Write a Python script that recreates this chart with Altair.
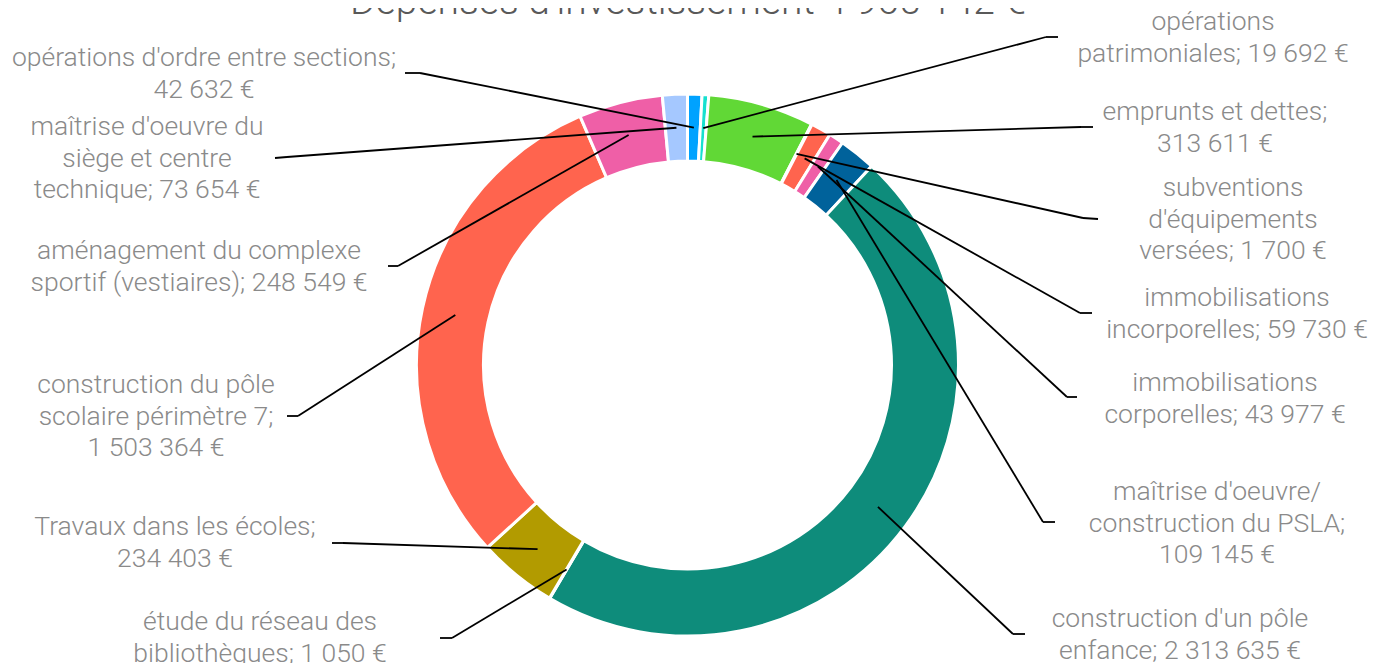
import altair as alt
import pandas as pd

# ---- data ----
categories = [
    "opérations d'ordre entre sections",
    "opérations patrimoniales",
    "emprunts et dettes",
    "subventions d'équipements versées",
    "immobilisations incorporelles",
    "immobilisations corporelles",
    "maîtrise d'oeuvre/construction du PSLA",
    "construction d'un pôle enfance",
    "étude du réseau des bibliothèques",
    "Travaux dans les écoles",
    "construction du pôle scolaire périmètre 7",
    "aménagement du complexe sportif (vestiaires)",
    "maîtrise d'oeuvre du siège et centre technique",
]
values = [42632, 19692, 313611, 1700, 59730, 43977, 109145,
          2313635, 1050, 234403, 1503364, 248549, 73654]
label_texts = [
    "opérations d'ordre entre sections;\n42 632 €",
    "opérations\npatrimoniales; 19 692 €",
    "emprunts et dettes;\n313 611 €",
    "subventions\nd'équipements\nversées; 1 700 €",
    "immobilisations\nincorporelles; 59 730 €",
    "immobilisations\ncorporelles; 43 977 €",
    "maîtrise d'oeuvre/\nconstruction du PSLA;\n109 145 €",
    "construction d'un pôle\nenfance; 2 313 635 €",
    "étude du réseau des\nbibliothèques; 1 050 €",
    "Travaux dans les écoles;\n234 403 €",
    "construction du pôle\nscolaire périmètre 7;\n1 503 364 €",
    "aménagement du complexe\nsportif (vestiaires); 248 549 €",
    "maîtrise d'oeuvre du\nsiège et centre\ntechnique; 73 654 €",
]
title_text = "Dépenses d'investissement 4 965 142 €"

# ---- styles / layout ----
colors = ["#00A2FF", "#16E0CF", "#61D836", "#FFD932", "#FF644E", "#EF5FA7",
          "#00629B", "#0E8C7B", "#4B4B4B", "#B29B00", "#FF644E", "#EF5FA7", "#A5C8FF"]
W, H = 1370, 655
OFF = 8  # page margin
CX, CY = 687.5 - OFF, 365.0 - OFF
R_OUT, R_IN = 271, 204
R_MID = (R_OUT + R_IN) / 2
# page px: label centre x, first-line y, leader elbow (x, y), leader end (x, y)
label_layout = [
    (204, 58, 420, 73, 405, 73),
    (1213, 22, 1046, 37, 1058, 37),
    (1215, 112, 1081, 127, 1093, 127),
    (1233, 188, 1083, 218, 1098, 219),
    (1237, 298, 1080, 313, 1092, 313),
    (1225, 383, 1067, 397, 1077, 397),
    (1217, 492, 1043, 522, 1055, 522),
    (1180, 619, 1013, 634, 1025, 634),
    (260, 622, 452, 638, 440, 638),
    (175, 527, 343, 543, 332, 543),
    (156, 385, 298, 416, 287, 416),
    (199, 251, 398, 266, 388, 266),
    (147, 127, 287, 157, 275, 158),
]

df = pd.DataFrame({
    "cat": categories,
    "value": values,
    "idx": list(range(len(categories))),
    "label": label_texts,
    "lx": [l[0] - OFF for l in label_layout],
    "ly": [l[1] - OFF for l in label_layout],
    "bx": [l[2] - OFF for l in label_layout],
    "by": [l[3] - OFF for l in label_layout],
    "ex": [l[4] - OFF for l in label_layout],
    "ey": [l[5] - OFF for l in label_layout],
})

base = alt.Chart(df)

arcs = base.mark_arc(radius=R_OUT, radius2=R_IN, stroke="white", strokeWidth=3).encode(
    theta=alt.Theta("value:Q", stack=True),
    color=alt.Color("cat:N", scale=alt.Scale(domain=categories, range=colors), legend=None),
    order=alt.Order("idx:Q"),
    x=alt.value(CX),
    y=alt.value(CY),
)

anch = base.transform_joinaggregate(total="sum(value)").transform_window(
    cum="sum(value)", sort=[alt.SortField("idx")], frame=[None, 0]
).transform_calculate(
    mid="(datum.cum - datum.value/2) / datum.total * 2 * PI",
).transform_calculate(
    ax=f"{CX} + {R_MID} * sin(datum.mid)",
    ay=f"{CY} - {R_MID} * cos(datum.mid)",
)

lead1 = anch.mark_rule(color="black", strokeWidth=1.8).encode(
    x=alt.X("ax:Q", scale=None), y=alt.Y("ay:Q", scale=None),
    x2="bx:Q", y2="by:Q",
)
lead2 = base.mark_rule(color="black", strokeWidth=1.8).encode(
    x=alt.X("bx:Q", scale=None), y=alt.Y("by:Q", scale=None),
    x2="ex:Q", y2="ey:Q",
)

labels = base.mark_text(
    font="Roboto", fontWeight=300, fontSize=26.5, color="#8a8a8a",
    lineBreak="\n", lineHeight=31.5, align="center", baseline="middle",
).encode(
    x=alt.X("lx:Q", scale=None), y=alt.Y("ly:Q", scale=None), text="label:N",
)

title = alt.Chart(pd.DataFrame({"t": [title_text]})).mark_text(
    font="Roboto", fontWeight=300, fontSize=39, color="#595959",
    align="center", baseline="alphabetic",
).encode(x=alt.value(688 - OFF), y=alt.value(6), text="t:N")

chart = alt.layer(arcs, lead1, lead2, labels, title).properties(
    width=W, height=H, padding=0, autosize=alt.AutoSizeParams(type="none"),
).configure_view(stroke=None)

chart.save("out.html", embed_options={"renderer": "svg", "actions": False})
